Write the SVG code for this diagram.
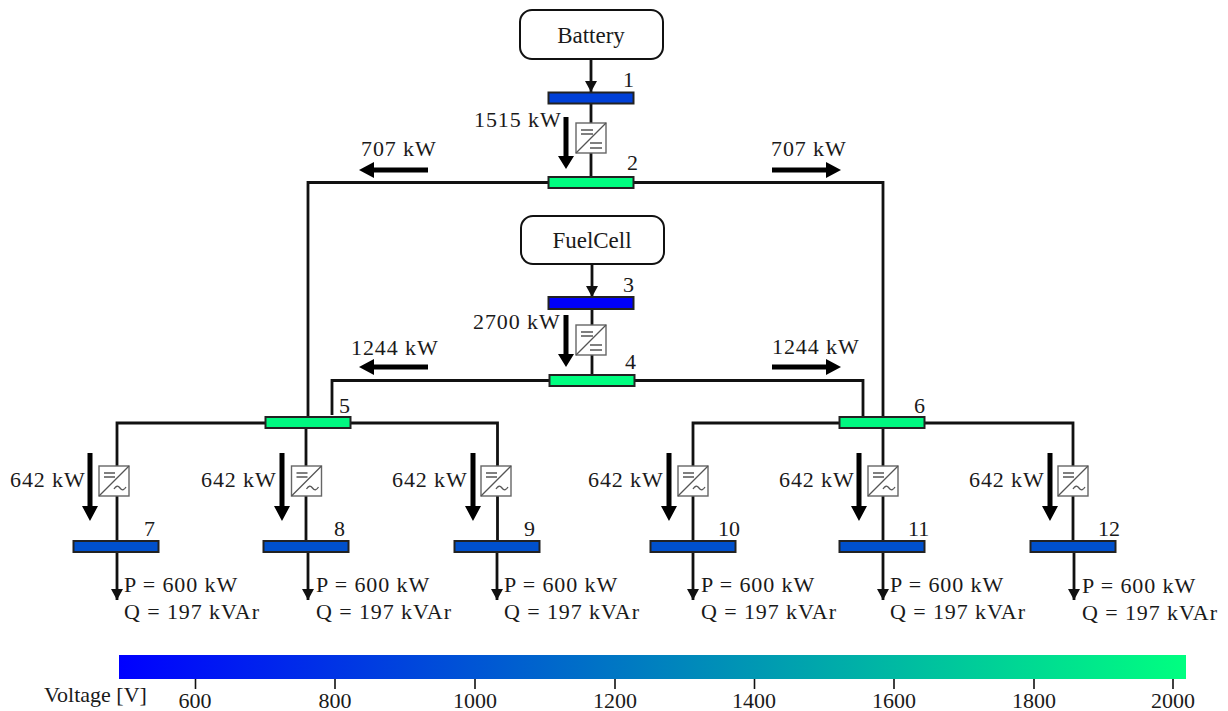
<svg xmlns="http://www.w3.org/2000/svg" xmlns:xlink="http://www.w3.org/1999/xlink" width="1228" height="711" viewBox="0 0 1228 711">
<style>
text{font-family:"Liberation Serif","DejaVu Serif",serif;fill:#1a1a1a}
.l{font-size:22px;letter-spacing:.9px}
.n{font-size:22px}
.src{fill:#fff;stroke:#111;stroke-width:2}
.bus{stroke:#222;stroke-width:2}
.w{fill:none;stroke:#111;stroke-width:2.8}
.pw{fill:#000}
.cv{fill:#fff;stroke:#666;stroke-width:1.4}
.g{fill:none;stroke:#555;stroke-width:1.3}
</style>
<defs>
<linearGradient id="cb"><stop offset="0" stop-color="#0000ff"/><stop offset="1" stop-color="#00ff80"/></linearGradient>
<marker id="a" markerUnits="userSpaceOnUse" markerWidth="12" markerHeight="13" refX="11" refY="6" orient="auto"><path d="M0 0L11 6L0 12Z" fill="#111"/></marker>
<g id="dc"><rect class="cv" width="30" height="30"/><path class="g" d="M0 30L30 0M5 7H17M5 11H17M14 20H26M14 25H26"/></g>
<g id="ac"><rect class="cv" width="30" height="30"/><path class="g" d="M0 30L30 0M5 7H16M5 11H16M15 23q3-5 6-1t6-1"/></g>
<path id="pd" class="pw" d="M-2.500 0H2.500V39H8L0 52L-8 39H-2.500Z"/>
<path id="pd2" class="pw" d="M-2.500 0H2.500V53H8L0 68L-8 53H-2.500Z"/>
<path id="ph" class="pw" d="M0 -2.500H54V-8L69 0L54 8V2.500H0Z"/>
</defs>
<rect width="1228" height="711" fill="#fff"/>
<g id="connectors">
<path class="w" d="M591 59V92" marker-end="url(#a)"/>
<path class="w" d="M592 264V297" marker-end="url(#a)"/>
<path class="w" d="M591 103V177M592 309V375"/>
<path class="w" d="M548 182.500H308V417M634 182.500H883V417"/>
<path class="w" d="M549 380.500H332V415M635 380.500H863V417"/>
<path class="w" d="M265 423H117V541M306 428V541M351 423H497.500V541"/>
<path class="w" d="M839 423H693V541M883 428V541M925 423H1073V541"/>
<path class="w" d="M117 552V600" marker-end="url(#a)"/>
<path class="w" d="M308 552V600" marker-end="url(#a)"/>
<path class="w" d="M497 552V600" marker-end="url(#a)"/>
<path class="w" d="M693 552V600" marker-end="url(#a)"/>
<path class="w" d="M883 552V600" marker-end="url(#a)"/>
<path class="w" d="M1074 552V600" marker-end="url(#a)"/>
</g>
<g id="battery"><rect class="src" x="520" y="10" width="143" height="49" rx="12"/><text x="591" y="43" text-anchor="middle" style="font-size:23px">Battery</text></g>
<g id="fuelcell"><rect class="src" x="521" y="216" width="143" height="48" rx="12"/><text x="592" y="248" text-anchor="middle" style="font-size:23px">FuelCell</text></g>
<g id="bus1"><rect class="bus" x="548.500" y="92.500" width="85" height="11" fill="#0040d8"/><text class="n" x="623" y="87">1</text></g>
<g id="bus2"><rect class="bus" x="548.500" y="177" width="85" height="11" fill="#00ff80"/><text class="n" x="627" y="170">2</text></g>
<g id="bus3"><rect class="bus" x="548.500" y="297" width="85" height="12" fill="#0000fb"/><text class="n" x="623" y="292">3</text></g>
<g id="bus4"><rect class="bus" x="549.500" y="375" width="85" height="11" fill="#00ff80"/><text class="n" x="625" y="369">4</text></g>
<g id="bus5"><rect class="bus" x="265.500" y="417" width="85" height="11" fill="#00f880"/><text class="n" x="339" y="413">5</text></g>
<g id="bus6"><rect class="bus" x="839.500" y="417" width="85" height="11" fill="#00f880"/><text class="n" x="914" y="413">6</text></g>
<g id="bus7"><rect class="bus" x="73.500" y="541" width="85" height="11" fill="#0050cc"/><text class="n" x="144" y="536">7</text></g>
<g id="bus8"><rect class="bus" x="263.500" y="541" width="85" height="11" fill="#0050cc"/><text class="n" x="334" y="536">8</text></g>
<g id="bus9"><rect class="bus" x="454.500" y="541" width="85" height="11" fill="#0050cc"/><text class="n" x="524" y="536">9</text></g>
<g id="bus10"><rect class="bus" x="650.500" y="541" width="85" height="11" fill="#0050cc"/><text class="n" x="718" y="536">10</text></g>
<g id="bus11"><rect class="bus" x="839.500" y="541" width="85" height="11" fill="#0050cc"/><text class="n" x="908" y="536">11</text></g>
<g id="bus12"><rect class="bus" x="1030.500" y="541" width="85" height="11" fill="#0050cc"/><text class="n" x="1098" y="536">12</text></g>
<g id="conv1"><use href="#dc" x="576" y="123"/><use href="#pd" x="566" y="117"/><text class="l" x="474" y="127">1515 kW</text></g>
<g id="conv2"><use href="#dc" x="576" y="325"/><use href="#pd" x="566" y="315"/><text class="l" x="473" y="329">2700 kW</text></g>
<g id="flow-2l"><use href="#ph" transform="translate(428 170) scale(-1 1)"/><text class="l" x="361" y="156">707 kW</text></g>
<g id="flow-2r"><use href="#ph" x="772" y="170"/><text class="l" x="771" y="156">707 kW</text></g>
<g id="flow-4l"><use href="#ph" transform="translate(428 367) scale(-1 1)"/><text class="l" x="351" y="355">1244 kW</text></g>
<g id="flow-4r"><use href="#ph" x="772" y="367"/><text class="l" x="772" y="354">1244 kW</text></g>
<g id="inv7"><use href="#ac" x="99" y="466"/><use href="#pd2" x="90" y="453"/><text class="l" x="10" y="487">642 kW</text></g>
<g id="inv8"><use href="#ac" x="291.500" y="466"/><use href="#pd2" x="282" y="453"/><text class="l" x="201" y="487">642 kW</text></g>
<g id="inv9"><use href="#ac" x="481" y="466"/><use href="#pd2" x="473" y="453"/><text class="l" x="392" y="487">642 kW</text></g>
<g id="inv10"><use href="#ac" x="678" y="466"/><use href="#pd2" x="669" y="453"/><text class="l" x="588" y="487">642 kW</text></g>
<g id="inv11"><use href="#ac" x="868" y="466"/><use href="#pd2" x="859" y="453"/><text class="l" x="779" y="487">642 kW</text></g>
<g id="inv12"><use href="#ac" x="1058" y="466"/><use href="#pd2" x="1050" y="453"/><text class="l" x="969" y="487">642 kW</text></g>
<g id="load7"><text class="l" x="124" y="592">P = 600 kW</text><text class="l" x="124" y="619">Q = 197 kVAr</text></g>
<g id="load8"><text class="l" x="316" y="592">P = 600 kW</text><text class="l" x="316" y="619">Q = 197 kVAr</text></g>
<g id="load9"><text class="l" x="504" y="592">P = 600 kW</text><text class="l" x="504" y="619">Q = 197 kVAr</text></g>
<g id="load10"><text class="l" x="701" y="592">P = 600 kW</text><text class="l" x="701" y="619">Q = 197 kVAr</text></g>
<g id="load11"><text class="l" x="890" y="592">P = 600 kW</text><text class="l" x="890" y="619">Q = 197 kVAr</text></g>
<g id="load12"><text class="l" x="1082" y="593">P = 600 kW</text><text class="l" x="1082" y="620">Q = 197 kVAr</text></g>
<g id="colorbar">
<rect x="119" y="655" width="1067" height="24" fill="url(#cb)"/>
<path stroke="#111" stroke-width="1.6" d="M195.500 679v10M335 679v10M475 679v10M615 679v10M754.500 679v10M894 679v10M1034 679v10M1173 679v10"/>
<g text-anchor="middle" style="font-size:22px"><text x="195" y="708">600</text><text x="335" y="708">800</text><text x="475" y="708">1000</text><text x="615" y="708">1200</text><text x="754" y="708">1400</text><text x="894" y="708">1600</text><text x="1034" y="708">1800</text><text x="1173" y="708">2000</text></g>
<text x="44" y="702" style="font-size:22px">Voltage [V]</text>
</g>
</svg>
